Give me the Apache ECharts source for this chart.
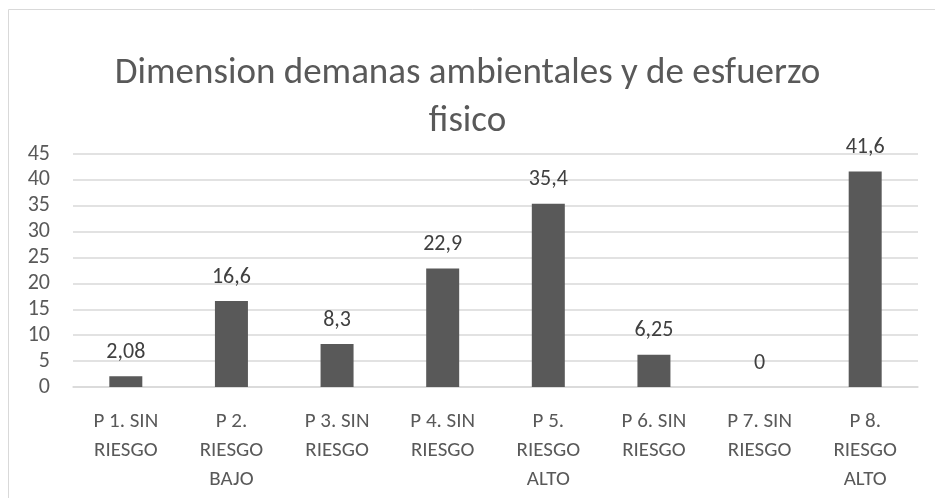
<!DOCTYPE html>
<html><head><meta charset="utf-8">
<script src="https://cdn.jsdelivr.net/npm/echarts@6/dist/echarts.min.js"></script>
<style>html,body{margin:0;padding:0;background:#fff}#c{width:935px;height:498px}</style>
</head><body><div id="c"></div>
<script>
const categories = ["P 1. SIN\nRIESGO", "P 2.\nRIESGO\nBAJO", "P 3. SIN\nRIESGO", "P 4. SIN\nRIESGO", "P 5.\nRIESGO\nALTO", "P 6. SIN\nRIESGO", "P 7. SIN\nRIESGO", "P 8.\nRIESGO\nALTO"];
const values = [2.08, 16.6, 8.3, 22.9, 35.4, 6.25, 0, 41.6];
const yTicks = [0, 45, 5];
const FONT = "Carlito, 'Liberation Sans Narrow', 'Open Sans', sans-serif";
const chart = echarts.init(document.getElementById('c'));
chart.setOption({
  animation: false,
  textStyle: {fontFamily: FONT},
  graphic: [{type: 'rect', shape: {x: 8.5, y: 9.5, width: 960, height: 520}, style: {fill: 'none', stroke: '#d9d9d9', lineWidth: 1}, z: -1}],
  title: {
    text: 'Dimension demanas ambientales y de esfuerzo\nfisico',
    left: 'center', top: 45,
    textStyle: {fontFamily: FONT, fontSize: 37, fontWeight: 'normal', color: '#595959', lineHeight: 48}
  },
  grid: {left: 73, right: 17, top: 154, bottom: 111, containLabel: false},
  xAxis: {
    type: 'category', data: categories,
    axisLine: {lineStyle: {color: '#d9d9d9', width: 1.5}},
    axisTick: {show: false},
    axisLabel: {color: '#595959', fontSize: 21, lineHeight: 29, margin: 20, interval: 0, fontFamily: FONT}
  },
  yAxis: {
    type: 'value', min: yTicks[0], max: yTicks[1], interval: yTicks[2],
    axisLine: {show: false}, axisTick: {show: false},
    splitLine: {lineStyle: {color: '#d9d9d9', width: 1.5}},
    axisLabel: {color: '#595959', fontSize: 22, margin: 23, fontFamily: FONT}
  },
  series: [{
    type: 'bar', data: values, barWidth: 33,
    itemStyle: {color: '#595959'},
    label: {show: true, position: 'top', distance: 13, color: '#404040', fontSize: 22, fontFamily: FONT,
      formatter: p => String(p.value).replace('.', ',')}
  }]
});
</script></body></html>
